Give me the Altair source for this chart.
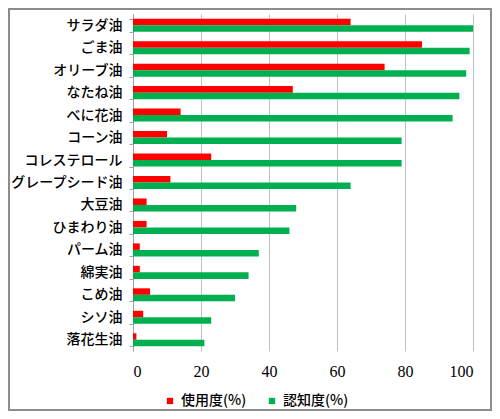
import altair as alt
import pandas as pd

categories = ["サラダ油", "ごま油", "オリーブ油", "なたね油", "べに花油", "コーン油",
              "コレステロール", "グレープシード油", "大豆油", "ひまわり油", "パーム油",
              "綿実油", "こめ油", "シソ油", "落花生油"]
usage = [64, 85, 74, 47, 14, 10, 23, 11, 4, 4, 2, 2, 5, 3, 1]
awareness = [100, 99, 98, 96, 94, 79, 79, 64, 48, 46, 37, 34, 30, 23, 21]
series = ["使用度(%)", "認知度(%)"]
colors = ["#FF0000", "#00B050"]
x_ticks = [0, 20, 40, 60, 80, 100]

rows = []
for c, u, a in zip(categories, usage, awareness):
    rows.append({"oil": c, "series": series[0], "value": u})
    rows.append({"oil": c, "series": series[1], "value": a})
df = pd.DataFrame(rows)

JP = "Noto Sans CJK JP"
SERIF = "Liberation Serif"

bars = alt.Chart(df).mark_bar().encode(
    y=alt.Y("oil:N", sort=categories,
            scale=alt.Scale(paddingInner=0.42, paddingOuter=0.21),
            axis=alt.Axis(title=None, labelFontSize=14, labelFont=JP, labelColor="black",
                          labelFontWeight=500,
                          tickBand="extent", ticks=True, tickSize=4, tickColor="#a0a0a0",
                          domainColor="#a0a0a0", labelPadding=7, grid=False)),
    x=alt.X("value:Q", scale=alt.Scale(domain=[0, 100], nice=False),
            axis=alt.Axis(values=x_ticks, title=None, grid=True, gridColor="#c0c0c0",
                          domain=False, ticks=False, labelFontSize=16, labelFont=SERIF,
                          labelColor="black", labelPadding=12)),
    yOffset=alt.YOffset("series:N", sort=series),
    color=alt.Color("series:N", sort=series,
                    scale=alt.Scale(domain=series, range=colors),
                    legend=alt.Legend(title=None, orient="none", direction="horizontal",
                                      legendX=30, legendY=380, symbolType="square",
                                      symbolSize=40, labelFontSize=14, labelFont=JP,
                                      labelFontWeight=500,
                                      labelColor="black", columnPadding=18, labelOffset=4)),
)

frame = alt.Chart(alt.Data(values=[{"a": 1}])).mark_rect(
    fill=None, stroke="#8c8c8c", strokeWidth=2
).encode(
    x=alt.value(-124), x2=alt.value(358), y=alt.value(-5), y2=alt.value(396)
)

chart = alt.layer(bars, frame).properties(
    width=340, height=337,
    autosize=alt.AutoSizeParams(type="none"),
    padding={"left": 125, "top": 6, "right": 19, "bottom": 60},
).configure_view(stroke=None)

chart.save("out.html", embed_options={"renderer": "svg", "actions": False})
